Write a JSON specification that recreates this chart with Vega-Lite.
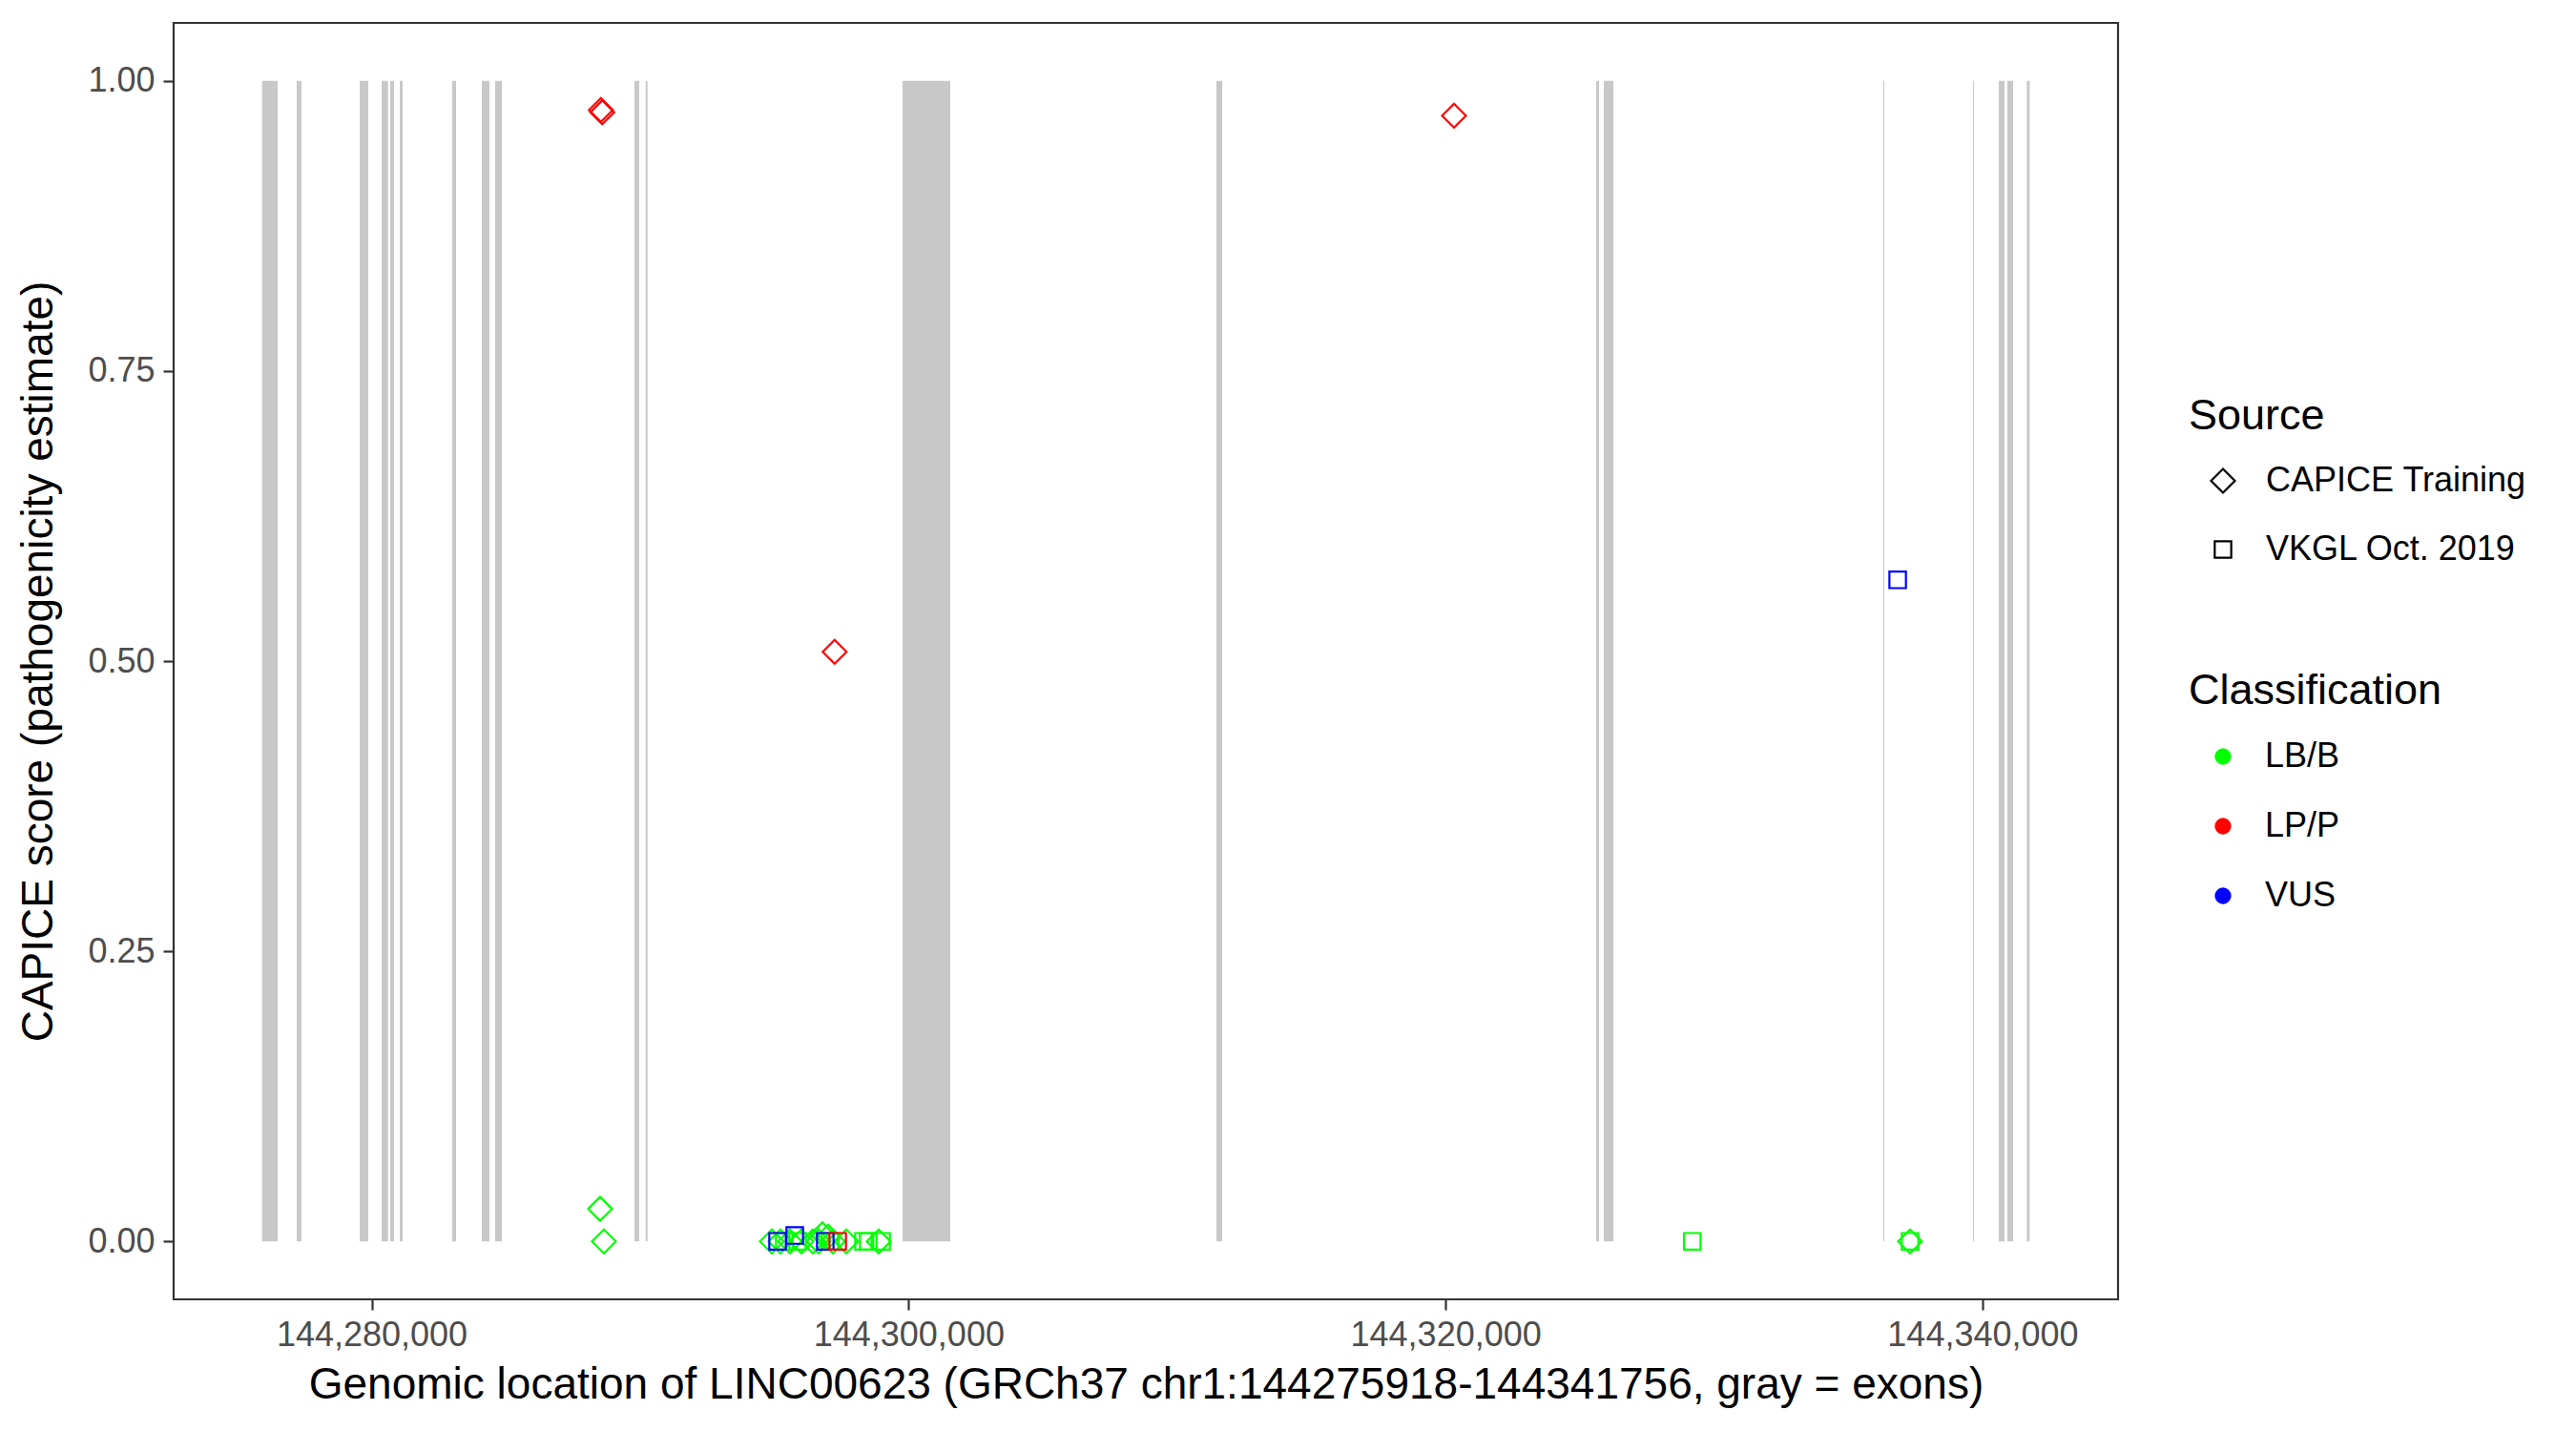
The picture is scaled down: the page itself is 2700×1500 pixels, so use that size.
{
  "$schema": "https://vega.github.io/schema/vega-lite/v6.json",
  "autosize": {"type": "none"},
  "width": 2038,
  "height": 1338,
  "padding": {"left": 182, "top": 24, "right": 480, "bottom": 138},
  "background": "white",
  "config": {
    "font": "Liberation Sans",
    "view": {"stroke": "#333333", "strokeWidth": 2.2},
    "axis": {"grid": false, "domain": false, "tickColor": "#333333", "tickWidth": 2.2, "tickSize": 11, "labelColor": "#4D4D4D", "labelFontSize": 36, "labelPadding": 9, "labelLimit": 0, "titleFontSize": 46, "titleFontWeight": "normal", "titleColor": "black", "labelFont": "Liberation Sans", "titleFont": "Liberation Sans"},
    "legend": {"titleFontSize": 45, "titleFontWeight": "normal", "labelFontSize": 36, "titleColor": "black", "labelColor": "black", "padding": 0, "labelLimit": 0, "titleLimit": 0, "labelFont": "Liberation Sans", "titleFont": "Liberation Sans"}
  },
  "datasets": {
    "exons": [
      {"start": 144275918, "end": 144276499},
      {"start": 144277210, "end": 144277388},
      {"start": 144279556, "end": 144279875},
      {"start": 144280373, "end": 144280611},
      {"start": 144280693, "end": 144280835},
      {"start": 144281048, "end": 144281155},
      {"start": 144283003, "end": 144283145},
      {"start": 144284104, "end": 144284389},
      {"start": 144284602, "end": 144284850},
      {"start": 144289790, "end": 144289968},
      {"start": 144290206, "end": 144290277},
      {"start": 144299775, "end": 144301552},
      {"start": 144311467, "end": 144311680},
      {"start": 144325611, "end": 144325717},
      {"start": 144325895, "end": 144326251},
      {"start": 144336307, "end": 144336343},
      {"start": 144339648, "end": 144339684},
      {"start": 144340607, "end": 144340820},
      {"start": 144340927, "end": 144341140},
      {"start": 144341650, "end": 144341756}
    ],
    "variants": [
      {"pos": 144288510, "score": 0.028, "source": "CAPICE Training", "classification": "LB/B"},
      {"pos": 144288652, "score": 0.0, "source": "CAPICE Training", "classification": "LB/B"},
      {"pos": 144294907, "score": 0.0, "source": "CAPICE Training", "classification": "LB/B"},
      {"pos": 144295227, "score": 0.0, "source": "CAPICE Training", "classification": "LB/B"},
      {"pos": 144295369, "score": 0.0, "source": "VKGL Oct. 2019", "classification": "LB/B"},
      {"pos": 144295582, "score": 0.0, "source": "CAPICE Training", "classification": "LB/B"},
      {"pos": 144295867, "score": 0.0, "source": "VKGL Oct. 2019", "classification": "LB/B"},
      {"pos": 144296009, "score": 0.0, "source": "CAPICE Training", "classification": "LB/B"},
      {"pos": 144296435, "score": 0.0, "source": "CAPICE Training", "classification": "LB/B"},
      {"pos": 144296648, "score": 0.0, "source": "CAPICE Training", "classification": "LB/B"},
      {"pos": 144296790, "score": 0.006, "source": "CAPICE Training", "classification": "LB/B"},
      {"pos": 144297004, "score": 0.004, "source": "CAPICE Training", "classification": "LB/B"},
      {"pos": 144297075, "score": 0.0, "source": "VKGL Oct. 2019", "classification": "LB/B"},
      {"pos": 144297181, "score": 0.0, "source": "CAPICE Training", "classification": "LB/B"},
      {"pos": 144297679, "score": 0.0, "source": "CAPICE Training", "classification": "LB/B"},
      {"pos": 144298319, "score": 0.0, "source": "VKGL Oct. 2019", "classification": "LB/B"},
      {"pos": 144298496, "score": 0.0, "source": "VKGL Oct. 2019", "classification": "LB/B"},
      {"pos": 144298887, "score": 0.0, "source": "CAPICE Training", "classification": "LB/B"},
      {"pos": 144298994, "score": 0.0, "source": "VKGL Oct. 2019", "classification": "LB/B"},
      {"pos": 144329189, "score": 0.0, "source": "VKGL Oct. 2019", "classification": "LB/B"},
      {"pos": 144337301, "score": 0.0, "source": "CAPICE Training", "classification": "LB/B"},
      {"pos": 144337301, "score": 0.0, "source": "VKGL Oct. 2019", "classification": "LB/B"},
      {"pos": 144295120, "score": 0.0, "source": "VKGL Oct. 2019", "classification": "VUS"},
      {"pos": 144295760, "score": 0.005, "source": "VKGL Oct. 2019", "classification": "VUS"},
      {"pos": 144296897, "score": 0.0, "source": "VKGL Oct. 2019", "classification": "VUS"},
      {"pos": 144336840, "score": 0.570, "source": "VKGL Oct. 2019", "classification": "VUS"},
      {"pos": 144297359, "score": 0.0, "source": "VKGL Oct. 2019", "classification": "LP/P"},
      {"pos": 144288540, "score": 0.975, "source": "CAPICE Training", "classification": "LP/P"},
      {"pos": 144288590, "score": 0.973, "source": "CAPICE Training", "classification": "LP/P"},
      {"pos": 144320315, "score": 0.970, "source": "CAPICE Training", "classification": "LP/P"},
      {"pos": 144297245, "score": 0.508, "source": "CAPICE Training", "classification": "LP/P"}
    ]
  },
  "layer": [
    {
      "data": {"name": "exons"},
      "mark": {"type": "rect", "color": "#C8C8C8"},
      "encoding": {
        "x": {"field": "start", "type": "quantitative", "scale": {"domain": [144272626, 144345048], "nice": false, "zero": false},
              "axis": {"values": [144280000, 144300000, 144320000, 144340000], "format": ",d", "title": "Genomic location of LINC00623 (GRCh37 chr1:144275918-144341756, gray = exons)", "titlePadding": 12}},
        "x2": {"field": "end"},
        "y": {"datum": 0, "type": "quantitative", "scale": {"domain": [-0.05, 1.05], "nice": false, "zero": false},
              "axis": {"values": [0, 0.25, 0.5, 0.75, 1], "format": ".2f", "title": "CAPICE score (pathogenicity estimate)", "titlePadding": 27}},
        "y2": {"datum": 1}
      }
    },
    {
      "data": {"name": "variants"},
      "mark": {"type": "point", "filled": true, "size": 0, "opacity": 1, "strokeWidth": 0},
      "encoding": {
        "x": {"field": "pos", "type": "quantitative"},
        "y": {"field": "score", "type": "quantitative"},
        "color": {"field": "classification", "type": "nominal", "title": "Classification",
                  "scale": {"domain": ["LB/B", "LP/P", "VUS"], "range": ["#00FF00", "#FF0000", "#0000FF"]},
                  "legend": {"orient": "none", "legendX": 2112, "legendY": 678, "titlePadding": 28, "rowPadding": 37, "symbolType": "circle", "symbolSize": 300, "symbolStrokeWidth": 0, "symbolOffset": 18, "labelOffset": 26}}
      }
    },
    {
      "data": {"name": "variants"},
      "mark": {"type": "point", "filled": false, "strokeWidth": 2.2, "opacity": 1},
      "encoding": {
        "x": {"field": "pos", "type": "quantitative"},
        "y": {"field": "score", "type": "quantitative"},
        "shape": {"field": "source", "type": "nominal", "title": "Source",
                  "scale": {"domain": ["CAPICE Training", "VKGL Oct. 2019"], "range": ["diamond", "square"]},
                  "legend": {"orient": "none", "legendX": 2112, "legendY": 390, "titlePadding": 27, "rowPadding": 36, "symbolOffset": 18, "labelOffset": 27, "symbolStrokeColor": "black", "symbolStrokeWidth": 2.2, "symbolFillColor": "transparent"}},
        "size": {"field": "source", "type": "nominal", "title": "Source",
                 "scale": {"domain": ["CAPICE Training", "VKGL Oct. 2019"], "range": [625, 300]}},
        "color": {"field": "classification", "type": "nominal", "legend": null}
      }
    }
  ]
}
